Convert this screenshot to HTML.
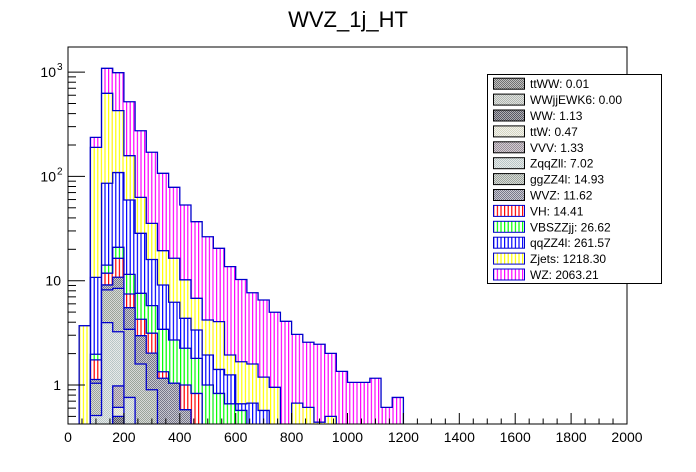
<!DOCTYPE html>
<html><head><meta charset="utf-8"><style>
body{margin:0;background:#fff;}
svg{display:block;font-family:"Liberation Sans",Arial,sans-serif;}
</style></head><body>
<svg id="chart" width="696" height="472" viewBox="0 0 696 472">
<defs>
<pattern id="p-WZ" patternUnits="userSpaceOnUse" width="3.6" height="4"><rect width="3.6" height="4" fill="#fff"/><rect x="0" width="1.2" height="4" fill="#ff00ff"/></pattern>
<pattern id="p-Zjets" patternUnits="userSpaceOnUse" width="3.6" height="4"><rect width="3.6" height="4" fill="#fff"/><rect x="0" width="1.2" height="4" fill="#ffff00"/></pattern>
<pattern id="p-qqZZ" patternUnits="userSpaceOnUse" width="3.6" height="4"><rect width="3.6" height="4" fill="#fff"/><rect x="0" width="1.2" height="4" fill="#0000ff"/></pattern>
<pattern id="p-VBS" patternUnits="userSpaceOnUse" width="3.6" height="4"><rect width="3.6" height="4" fill="#fff"/><rect x="0" width="1.2" height="4" fill="#00ff00"/></pattern>
<pattern id="p-VH" patternUnits="userSpaceOnUse" width="3.6" height="4"><rect width="3.6" height="4" fill="#fff"/><rect x="0" width="1.2" height="4" fill="#ff0000"/></pattern>
<pattern id="p-WVZ" patternUnits="userSpaceOnUse" width="2" height="2"><rect width="2" height="2" fill="#c8c8d0"/><rect width="1" height="1" fill="#77778a"/><rect x="1" y="1" width="1" height="1" fill="#77778a"/></pattern>
<pattern id="p-ggZZ" patternUnits="userSpaceOnUse" width="2" height="2"><rect width="2" height="2" fill="#d8d8d8"/><rect width="1" height="1" fill="#9aa59a"/><rect x="1" y="1" width="1" height="1" fill="#9aa59a"/></pattern>
<pattern id="p-Zqq" patternUnits="userSpaceOnUse" width="2" height="2"><rect width="2" height="2" fill="#e8e8e8"/><rect width="1" height="1" fill="#b8c8c8"/><rect x="1" y="1" width="1" height="1" fill="#b8c8c8"/></pattern>
<pattern id="p-VVV" patternUnits="userSpaceOnUse" width="2" height="2"><rect width="2" height="2" fill="#d0d0d0"/><rect width="1" height="1" fill="#9a8a9a"/><rect x="1" y="1" width="1" height="1" fill="#9a8a9a"/></pattern>
<pattern id="p-ttW" patternUnits="userSpaceOnUse" width="2" height="2"><rect width="2" height="2" fill="#f0f0f0"/><rect width="1" height="1" fill="#d8d8c0"/><rect x="1" y="1" width="1" height="1" fill="#d8d8c0"/></pattern>
<pattern id="p-WW" patternUnits="userSpaceOnUse" width="2" height="2"><rect width="2" height="2" fill="#b0b0b0"/><rect width="1" height="1" fill="#555566"/><rect x="1" y="1" width="1" height="1" fill="#555566"/></pattern>
<pattern id="p-WWjj" patternUnits="userSpaceOnUse" width="2" height="2"><rect width="2" height="2" fill="#e0e0e0"/><rect width="1" height="1" fill="#b0b8b0"/><rect x="1" y="1" width="1" height="1" fill="#b0b8b0"/></pattern>
<pattern id="p-ttWW" patternUnits="userSpaceOnUse" width="2" height="2"><rect width="2" height="2" fill="#c0c0c0"/><rect width="1" height="1" fill="#707070"/><rect x="1" y="1" width="1" height="1" fill="#707070"/></pattern>
<clipPath id="frameClip"><rect x="68" y="47" width="559" height="377"/></clipPath>
</defs>
<text x="348" y="27" font-size="22" text-anchor="middle">WVZ_1j_HT</text>
<g id="bars" clip-path="url(#frameClip)"></g>
<rect x="68" y="47" width="559" height="377" fill="none" stroke="#000" stroke-width="1"/>
<g id="axes"></g>
<g id="legend"></g>
</svg>
<script>
// bin lower edges: 40,80,...,1160 (width 40)
const binEdges0 = 40, binWidth = 40;
const WW    = [0,0,0,0.5,0,0,0,0,0,0,0,0,0,0,0,0,0,0,0,0,0,0,0,0,0,0,0,0,0];
const ttW   = [0,0,0,0.11,0,0,0,0,0,0,0,0,0,0,0,0,0,0,0,0,0,0,0,0,0,0,0,0,0];
const VVV   = [0,0,0,0.37,0,0,0,0,0,0,0,0,0,0,0,0,0,0,0,0,0,0,0,0,0,0,0,0,0];
const ZqqZll= [0,0.51,3.96,2.26,0.76,0.3,0,0,0,0,0,0,0,0,0,0,0,0,0,0,0,0,0,0,0,0,0,0,0];
const ggZZ4l= [0,0.53,4.2,5.2,2.66,1.29,0.9,0,0,0,0,0,0,0,0,0,0,0,0,0,0,0,0,0,0,0,0,0,0];
const WVZ   = [0,0.09,0.95,2.35,2.09,1.38,1.12,1.16,1.04,0.58,0,0,0,0,0,0,0,0,0,0,0,0,0,0,0,0,0,0,0];
const VH    = [0,0.61,2.7,5.6,1.94,1.3,1.12,0.18,0,0.42,0.83,0,0,0,0,0,0,0,0,0,0,0,0,0,0,0,0,0,0];
const VBSZZjj=[0,0.23,2.3,4.5,4.05,3.3,2.63,2.08,1.66,1.25,0.97,1.0,0.83,0.66,0.57,0,0,0,0,0,0,0,0,0,0,0,0,0,0];
const qqZZ4l= [0,8.8,71.8,88,47.9,20.9,10.2,5.68,3.51,2.11,1.57,0.94,0.58,0.59,0.09,0.67,0.57,0,0,0,0,0,0,0,0,0,0,0,0];
const Zjets = [3.7,179,540,318,98.6,34.5,19.5,10.3,10.2,5.84,3.41,2.26,2.64,0.69,1.01,0.92,0.62,0.95,0,0.67,0.61,0.44,0.5,0,0,0,0,0,0];
const WZ    = [0,47,461,560,362,211,135,87.6,62.2,43,30,22.2,16.4,11.7,8.6,6.08,5.34,4.03,4.08,2.39,1.96,2.02,1.51,1.35,1.06,1.06,1.16,0.61,0.76];
const xTicks = [0,200,400,600,800,1000,1200,1400,1600,1800,2000];
const legendLabels = ["ttWW: 0.01","WWjjEWK6: 0.00","WW: 1.13","ttW: 0.47","VVV: 1.33","ZqqZll: 7.02","ggZZ4l: 14.93","WVZ: 11.62","VH: 14.41","VBSZZjj: 26.62","qqZZ4l: 261.57","Zjets: 1218.30","WZ: 2063.21"];

const NS="http://www.w3.org/2000/svg";
const X0=68, X1=627, XMAX=2000, Y1=424, Y0=47;
const yMinV=Math.pow(10,-0.374);
function xPix(v){return X0+(X1-X0)*v/XMAX;}
function yPix(v){ if(v<=yMinV) return Y1+2; return 385-104.3*Math.log10(v);}
function mk(tag,attrs,parent){const e=document.createElementNS(NS,tag);for(const k in attrs)e.setAttribute(k,attrs[k]);parent.appendChild(e);return e;}

const stack=[["ttWW",null],["WWjj",null],["WW",WW],["ttW",ttW],["VVV",VVV],["Zqq",ZqqZll],["ggZZ",ggZZ4l],["WVZ",WVZ],["VH",VH],["VBS",VBSZZjj],["qqZZ",qqZZ4l],["Zjets",Zjets],["WZ",WZ]];
const nb=WZ.length;
const cums=[]; let run=new Array(nb).fill(0);
stack.forEach(([n,arr])=>{ if(arr) run=run.map((c,i)=>c+arr[i]); cums.push({n:n,c:run.slice(),has:!!arr}); });
const bars=document.getElementById('bars');
for(let s=cums.length-1;s>=0;s--){
  const S=cums[s]; if(!S.has) continue;
  const g=mk('g',{},bars);
  
  
  let d=''; let prevY=Y1+2;
  for(let i=0;i<nb;i++){
    const xa=xPix(binEdges0+i*binWidth), xb=xPix(binEdges0+(i+1)*binWidth);
    const y=yPix(S.c[i]);
    if(S.c[i]>0){
      const r=mk('rect',{x:xa,y:y,width:xb-xa,height:Math.max(0,Y1+2-y),fill:'url(#p-'+S.n+')'},g);
      
      
    }
    d+=(i===0?'M'+xa+','+prevY:'')+' L'+xa+','+y+' L'+xb+','+y;
    prevY=y;
  }
  d+=' L'+xPix(binEdges0+nb*binWidth)+','+(Y1+2);
  const p=mk('path',{d:d,fill:'none',stroke:'#0000cc','stroke-width':1.3},g);
  
  
}
// axes
const ax=document.getElementById('axes');
for(let v=0;v<=2000;v+=50){
  const major=v%200===0;
  mk('line',{x1:xPix(v),x2:xPix(v),y1:Y1,y2:Y1-(major?11:5.5),stroke:'#000','stroke-width':1},ax);
}
xTicks.forEach(v=>{
  const t=mk('text',{x:xPix(v),y:442,'font-size':14,'text-anchor':'middle'},ax);
  t.textContent=v;
  
  
});
for(let dec=-1;dec<=3;dec++){
  for(let m=1;m<=9;m++){
    const v=m*Math.pow(10,dec);
    const y=yPix(v); if(y<Y0||y>Y1) continue;
    mk('line',{x1:X0,x2:X0+(m===1?17:8),y1:y,y2:y,stroke:'#000','stroke-width':1},ax);
  }
}
const yl=[[1,'1',''],[10,'10',''],[100,'10','2'],[1000,'10','3']];
yl.forEach(([v,b,e])=>{
  const t=mk('text',{x:e?56:61,y:yPix(v)+5,'font-size':14,'text-anchor':'end'},ax);
  t.textContent=b;
  
  
  if(e){const s=mk('text',{x:57,y:yPix(v)-2,'font-size':10},ax);s.textContent=e;}
});
// legend
const lg=document.getElementById('legend');
mk('rect',{x:487.5,y:74.5,width:174,height:209,fill:'#fff',stroke:'#000','stroke-width':1},lg);
const lp=["ttWW","WWjj","WW","ttW","VVV","Zqq","ggZZ","WVZ","VH","VBS","qqZZ","Zjets","WZ"];
legendLabels.forEach((lab,i)=>{
  const cy=83.7+i*15.9;
  const g=mk('g',{},lg);
  
  
  mk('rect',{x:493.5,y:cy-5.5,width:31,height:11,fill:'url(#p-'+lp[i]+')',stroke:i>=8?'#0000cc':'#000','stroke-width':1},g);
  const t=mk('text',{x:530,y:cy+4.5,'font-size':12},g);
  t.textContent=lab;
});
</script>
</body></html>
